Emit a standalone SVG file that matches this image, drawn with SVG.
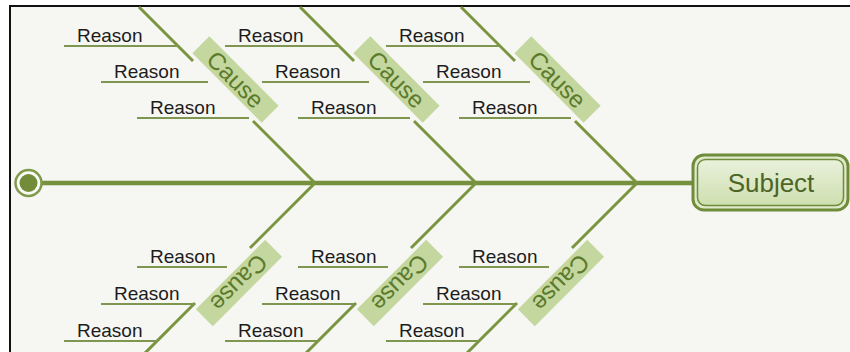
<svg xmlns="http://www.w3.org/2000/svg" width="850" height="352" viewBox="0 0 850 352">
<defs>
<linearGradient id="subj" x1="0" y1="0" x2="0" y2="1">
<stop offset="0" stop-color="#eaf1dc"/>
<stop offset="1" stop-color="#cddfae"/>
</linearGradient>
</defs>
<style>
.bone{stroke:#7a9440;stroke-width:3;fill:none;stroke-linecap:butt}
.rl{stroke:#7f9650;stroke-width:2;fill:none}
.rt{font-family:"Liberation Sans",Arial,sans-serif;font-size:19px;fill:#1c1c1c}
.cb{fill:#c4d79f}
.ct{font-family:"Liberation Sans",Arial,sans-serif;font-size:24px;fill:#5b7a2c;text-anchor:middle;dominant-baseline:central}
</style>
<rect x="0" y="0" width="850" height="352" fill="#ffffff"/>
<rect x="10" y="6" width="840" height="346" fill="#f6f6f3"/>
<path d="M10,352 V6 H850" fill="none" stroke="#111" stroke-width="2"/>

<g id="connectors">
<line x1="42" y1="183" x2="693" y2="183" stroke="#76913c" stroke-width="4.5"/>
<polyline class="bone" points="139,7 193,61"/><polyline class="bone" points="253,121 315,183"/>
<polyline class="bone" points="300,7 354,61"/><polyline class="bone" points="414,121 476,183"/>
<polyline class="bone" points="461,7 515,61"/><polyline class="bone" points="575,121 637,183"/>
<polyline class="bone" points="315,183 250,248"/><polyline class="bone" points="195,303 145,353"/>
<polyline class="bone" points="476,183 411,248"/><polyline class="bone" points="356,303 306,353"/>
<polyline class="bone" points="637,183 572,248"/><polyline class="bone" points="517,303 467,353"/>
<line class="rl" x1="64" y1="46" x2="178" y2="46"/><line class="rl" x1="101" y1="82" x2="208" y2="82"/><line class="rl" x1="137" y1="118" x2="249" y2="118"/>
<line class="rl" x1="225" y1="46" x2="339" y2="46"/><line class="rl" x1="262" y1="82" x2="369" y2="82"/><line class="rl" x1="298" y1="118" x2="410" y2="118"/>
<line class="rl" x1="386" y1="46" x2="500" y2="46"/><line class="rl" x1="423" y1="82" x2="530" y2="82"/><line class="rl" x1="459" y1="118" x2="571" y2="118"/>
<line class="rl" x1="137" y1="267" x2="227" y2="267"/><line class="rl" x1="101" y1="304" x2="194" y2="304"/><line class="rl" x1="64" y1="341" x2="157" y2="341"/>
<line class="rl" x1="298" y1="267" x2="388" y2="267"/><line class="rl" x1="262" y1="304" x2="355" y2="304"/><line class="rl" x1="225" y1="341" x2="318" y2="341"/>
<line class="rl" x1="459" y1="267" x2="549" y2="267"/><line class="rl" x1="423" y1="304" x2="516" y2="304"/><line class="rl" x1="386" y1="341" x2="479" y2="341"/>
</g>

<g id="start">
<circle cx="28.5" cy="183" r="13" fill="#fafaf6" stroke="#7f9a4a" stroke-width="2.5"/>
<circle cx="28.5" cy="183" r="9" fill="#728c3a"/>
</g>

<g id="subject">
<rect x="693" y="155" width="155" height="55" rx="11" fill="#dfe9cb" stroke="#6f8c3a" stroke-width="3"/>
<rect x="697.5" y="159.5" width="146" height="46" rx="8" fill="url(#subj)" stroke="#6f8c3a" stroke-width="1.5"/>
<text x="771" y="192" font-family="Liberation Sans, Arial, sans-serif" font-size="26" fill="#4d6527" text-anchor="middle">Subject</text>
</g>

<g id="cause-t1" transform="translate(235.5,79.5) rotate(45)"><rect class="cb" x="-49" y="-12" width="98" height="24"/><text class="ct" x="0" y="0">Cause</text></g>
<g id="cause-t2" transform="translate(396.5,79.5) rotate(45)"><rect class="cb" x="-49" y="-12" width="98" height="24"/><text class="ct" x="0" y="0">Cause</text></g>
<g id="cause-t3" transform="translate(557.5,79.5) rotate(45)"><rect class="cb" x="-49" y="-12" width="98" height="24"/><text class="ct" x="0" y="0">Cause</text></g>
<g id="cause-b1" transform="translate(239,283) rotate(135)"><rect class="cb" x="-49" y="-12" width="98" height="24"/><text class="ct" x="0" y="0">Cause</text></g>
<g id="cause-b2" transform="translate(400,283) rotate(135)"><rect class="cb" x="-49" y="-12" width="98" height="24"/><text class="ct" x="0" y="0">Cause</text></g>
<g id="cause-b3" transform="translate(561,283) rotate(135)"><rect class="cb" x="-49" y="-12" width="98" height="24"/><text class="ct" x="0" y="0">Cause</text></g>

<g id="reasons-top">
<text class="rt" x="77" y="42">Reason</text><text class="rt" x="114" y="78">Reason</text><text class="rt" x="150" y="114">Reason</text>
<text class="rt" x="238" y="42">Reason</text><text class="rt" x="275" y="78">Reason</text><text class="rt" x="311" y="114">Reason</text>
<text class="rt" x="399" y="42">Reason</text><text class="rt" x="436" y="78">Reason</text><text class="rt" x="472" y="114">Reason</text>
</g>
<g id="reasons-bottom">
<text class="rt" x="150" y="263">Reason</text><text class="rt" x="114" y="300">Reason</text><text class="rt" x="77" y="337">Reason</text>
<text class="rt" x="311" y="263">Reason</text><text class="rt" x="275" y="300">Reason</text><text class="rt" x="238" y="337">Reason</text>
<text class="rt" x="472" y="263">Reason</text><text class="rt" x="436" y="300">Reason</text><text class="rt" x="399" y="337">Reason</text>
</g>
</svg>
